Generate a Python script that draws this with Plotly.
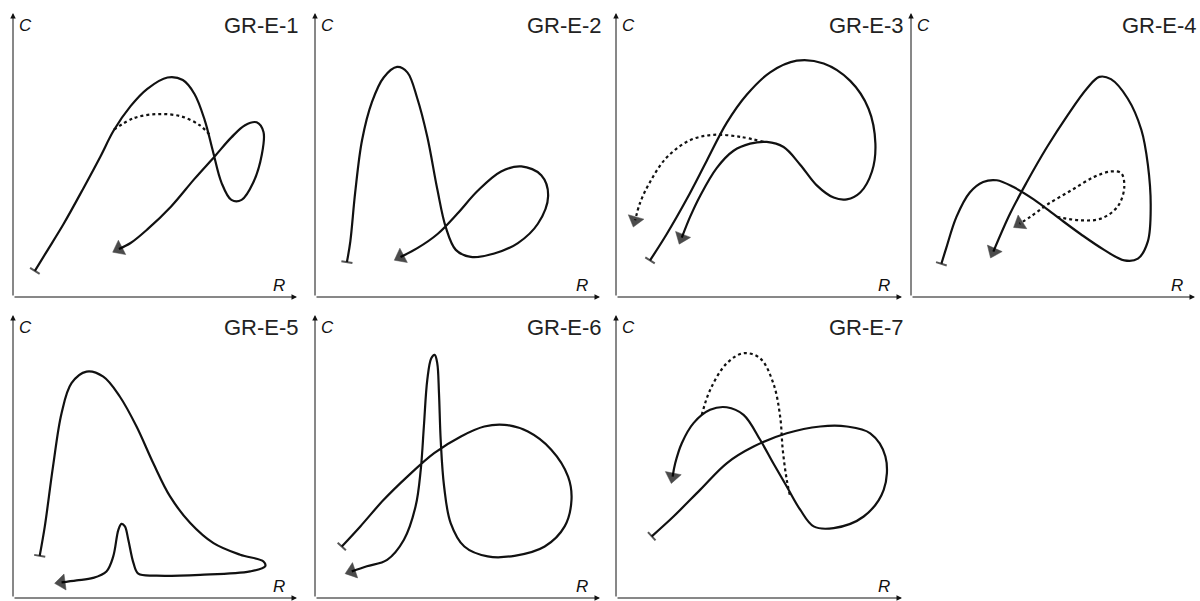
import plotly.graph_objects as go

# ---- Curve data (R on x, C on y, both on a 0-100 relative scale) ----
gr_e_1_x = [7.7, 11.8, 17.8, 24.9, 30.8, 35.5, 41.4, 47.3, 54.4, 59.8, 63.9, 67.5, 70.4, 73.4, 76.9, 80.5,
            84.6, 87.6, 88.2, 85.8, 81.7, 76.9, 71.0, 63.9, 55.6, 47.3, 41.4, 37.3]
gr_e_1_y = [9.2, 15.9, 25.7, 38.5, 49.5, 58.7, 67.2, 73.3, 77.3, 76.4, 71.5, 62.3, 51.3, 40.3, 34.2, 34.2,
            40.3, 50.1, 58.1, 61.5, 60.5, 56.2, 49.5, 41.6, 31.8, 23.8, 19.0, 16.9]
gr_e_1_dot_x = [35.5, 42.6, 50.9, 59.2, 65.7, 69.2]
gr_e_1_dot_y = [58.9, 63.0, 64.4, 63.6, 60.5, 57.2]

gr_e_2_x = [11.2, 12.4, 14.1, 16.5, 20.0, 24.1, 28.8, 32.4, 35.9, 39.4, 42.9, 45.9, 49.4, 54.7, 62.9, 71.2,
            78.2, 81.8, 79.4, 72.4, 65.3, 57.1, 50.0, 42.9, 35.9, 30.0]
gr_e_2_y = [12.3, 19.6, 36.8, 55.2, 68.7, 77.3, 81.0, 79.1, 69.9, 56.4, 38.0, 24.5, 16.6, 14.1, 15.3, 19.0,
            25.8, 35.6, 42.9, 46.0, 44.2, 37.4, 29.4, 22.1, 17.2, 14.1]

gr_e_3_x = [11.9, 17.7, 24.7, 31.7, 38.7, 45.7, 53.9, 63.2, 72.6, 81.9, 88.3, 90.7, 89.5, 85.4, 80.7, 76.1,
            70.2, 64.4, 58.6, 52.7, 46.9, 41.1, 35.2, 29.4, 25.9, 23.0]
gr_e_3_y = [12.9, 22.1, 34.4, 47.9, 61.3, 71.2, 79.1, 83.2, 82.2, 76.1, 66.3, 54.0, 44.2, 36.8, 34.4, 35.0,
            39.3, 46.6, 52.8, 54.6, 54.0, 51.5, 45.4, 35.6, 28.2, 20.9]
gr_e_3_dot_x = [51.6, 43.4, 34.1, 25.9, 17.7, 11.9, 8.4, 6.7]
gr_e_3_dot_y = [54.6, 56.4, 57.1, 55.2, 49.1, 40.5, 33.1, 27.0]

gr_e_4_x = [10.7, 12.4, 16.0, 20.7, 25.4, 30.2, 36.1, 43.2, 51.5, 59.8, 68.0, 75.1, 79.9, 83.4, 84.4, 83.4,
            81.1, 76.3, 70.4, 66.3, 62.1, 55.0, 47.9, 40.8, 34.9, 29.0]
gr_e_4_y = [11.7, 17.2, 28.2, 36.8, 40.5, 41.1, 38.7, 34.4, 28.2, 22.1, 16.6, 12.9, 13.5, 19.6, 31.9, 46.6,
            58.9, 69.9, 76.7, 77.5, 73.6, 63.8, 52.8, 40.5, 29.4, 16.0]
gr_e_4_dot_x = [51.5, 59.8, 66.9, 72.8, 75.1, 74.0, 70.4, 64.5, 56.2, 47.9, 42.0, 38.2]
gr_e_4_dot_y = [28.2, 27.0, 27.6, 31.9, 38.7, 43.6, 44.2, 42.3, 37.4, 32.5, 28.2, 25.8]

gr_e_5_x = [9.4, 11.2, 14.1, 17.1, 20.6, 25.9, 31.8, 37.6, 43.5, 49.4, 55.3, 62.4, 70.6, 80.0, 88.2, 88.8,
            83.5, 65.9, 50.6, 44.1, 42.4, 40.6, 39.4, 38.2, 37.1, 35.3, 32.9, 28.2, 22.4, 17.1]
gr_e_5_y = [14.9, 25.3, 46.5, 65.3, 75.9, 80.0, 78.2, 71.2, 60.6, 47.6, 35.9, 26.5, 19.4, 15.3, 12.9, 11.2,
            9.4, 8.2, 7.9, 8.6, 12.4, 20.6, 25.3, 26.2, 24.1, 14.7, 9.4, 7.1, 6.2, 5.5]

gr_e_6_x = [9.4, 15.9, 24.1, 32.4, 41.8, 51.2, 59.4, 66.5, 74.7, 82.9, 88.8, 90.0, 87.6, 80.6, 70.0, 60.6,
            52.4, 47.6, 45.3, 44.1, 43.5, 42.9, 42.0, 40.8, 39.4, 38.2, 37.1, 35.3, 31.2, 25.3, 18.2, 12.9]
gr_e_6_y = [18.2, 25.3, 34.7, 42.9, 51.2, 57.1, 60.6, 61.2, 58.8, 52.4, 42.9, 34.7, 25.3, 18.2, 14.9, 14.7,
            18.2, 26.5, 39.4, 55.9, 72.4, 82.9, 85.9, 84.7, 77.1, 60.6, 45.3, 32.4, 20.6, 13.5, 11.2, 9.4]

gr_e_7_x = [12.5, 20.1, 29.4, 38.7, 48.1, 59.7, 71.4, 80.7, 88.9, 94.2, 93.6, 86.6, 76.1, 69.1, 64.4, 59.7,
            55.0, 50.4, 44.6, 38.7, 32.9, 27.1, 23.0, 20.7, 19.8]
gr_e_7_y = [21.8, 28.8, 38.2, 47.6, 53.5, 58.2, 60.6, 60.6, 58.2, 50.0, 38.2, 28.8, 24.7, 25.3, 31.2, 39.4,
            47.6, 55.9, 64.7, 67.4, 66.5, 61.8, 54.7, 47.6, 42.9]
gr_e_7_dot_x = [30.0, 32.9, 38.7, 44.6, 50.4, 55.0, 57.4, 58.3, 59.7, 60.9]
gr_e_7_dot_y = [64.7, 73.5, 82.9, 86.5, 84.7, 75.9, 64.1, 52.4, 41.8, 35.9]

panel_titles = ["GR-E-1", "GR-E-2", "GR-E-3", "GR-E-4", "GR-E-5", "GR-E-6", "GR-E-7"]
solid_paths = [(gr_e_1_x, gr_e_1_y), (gr_e_2_x, gr_e_2_y), (gr_e_3_x, gr_e_3_y), (gr_e_4_x, gr_e_4_y),
               (gr_e_5_x, gr_e_5_y), (gr_e_6_x, gr_e_6_y), (gr_e_7_x, gr_e_7_y)]
dotted_paths = [(gr_e_1_dot_x, gr_e_1_dot_y), None, (gr_e_3_dot_x, gr_e_3_dot_y),
                (gr_e_4_dot_x, gr_e_4_dot_y), None, None, (gr_e_7_dot_x, gr_e_7_dot_y)]
dotted_arrow = [False, None, True, True, None, None, False]

# ---- Page geometry (pixels) ----
W, H = 1200, 601
col_px = [(13, 297), (315, 600), (616, 902), (911, 1195)]
row_px = [(13, 297), (315, 598)]

INK = "#111111"
FONT = "Liberation Sans, Arial, sans-serif"

fig = go.Figure()
annotations = []


def add_path(xs, ys, xa, ya, dash, end_arrow, tail):
    fig.add_trace(go.Scatter(
        x=xs, y=ys, xaxis=xa, yaxis=ya, mode="lines",
        line=dict(color=INK, width=2.2, shape="spline", smoothing=1.0, dash=dash),
        hoverinfo="skip", cliponaxis=False,
    ))
    if end_arrow:
        fig.add_trace(go.Scatter(
            x=xs[-2:], y=ys[-2:], xaxis=xa, yaxis=ya, mode="markers",
            marker=dict(symbol="triangle-up", size=[0, 14], color="#000000", angleref="previous",
                        line=dict(width=0.5, color="#000000")),
            hoverinfo="skip", cliponaxis=False,
        ))
    if tail:
        fig.add_trace(go.Scatter(
            x=[xs[1], xs[0]], y=[ys[1], ys[0]], xaxis=xa, yaxis=ya, mode="markers",
            marker=dict(symbol="line-ew", size=[0, 8], color=INK, angleref="previous",
                        line=dict(width=2, color=INK)),
            hoverinfo="skip", cliponaxis=False,
        ))


layout_axes = {}
for i, title in enumerate(panel_titles):
    r, c = divmod(i, 4)
    x0, x1 = col_px[c]
    y0, y1 = row_px[r]
    n = i + 1
    xa = "x" if n == 1 else f"x{n}"
    ya = "y" if n == 1 else f"y{n}"
    common = dict(range=[0, 100], showgrid=False, zeroline=False, showticklabels=False,
                  showline=False, ticks="", fixedrange=True)
    layout_axes[f"xaxis{'' if n == 1 else n}"] = dict(domain=[x0 / W, x1 / W], anchor=ya, **common)
    layout_axes[f"yaxis{'' if n == 1 else n}"] = dict(domain=[1 - y1 / H, 1 - y0 / H], anchor=xa, **common)

    sx, sy = solid_paths[i]
    add_path(sx, sy, xa, ya, "solid", True, True)
    if dotted_paths[i] is not None:
        dx, dy = dotted_paths[i]
        add_path(dx, dy, xa, ya, "dot", dotted_arrow[i], False)

    # axis arrows
    for tx, ty in [(100, 0), (0, 100)]:
        annotations.append(dict(x=tx, y=ty, ax=0, ay=0, xref=xa, yref=ya, axref=xa, ayref=ya,
                                text="", showarrow=True, arrowhead=2, arrowsize=1.1,
                                arrowwidth=1, arrowcolor=INK))
    annotations.append(dict(x=0.015, y=0.955, xref=f"{xa} domain", yref=f"{ya} domain", text="<i>C</i>",
                            showarrow=False, xanchor="left", yanchor="middle",
                            font=dict(family=FONT, size=17, color=INK)))
    annotations.append(dict(x=0.965, y=0.0, xref=f"{xa} domain", yref=f"{ya} domain", text="<i>R</i>",
                            showarrow=False, xanchor="right", yanchor="bottom",
                            font=dict(family=FONT, size=17, color=INK)))
    annotations.append(dict(x=1.0, y=0.956, xref=f"{xa} domain", yref=f"{ya} domain", xshift=4,
                            text=title, showarrow=False, xanchor="right", yanchor="middle",
                            font=dict(family=FONT, size=22, color="#222222")))

fig.update_layout(
    width=W, height=H, margin=dict(l=0, r=0, t=0, b=0),
    paper_bgcolor="white", plot_bgcolor="white", showlegend=False,
    annotations=annotations, **layout_axes,
)

fig.write_html("out.html")
